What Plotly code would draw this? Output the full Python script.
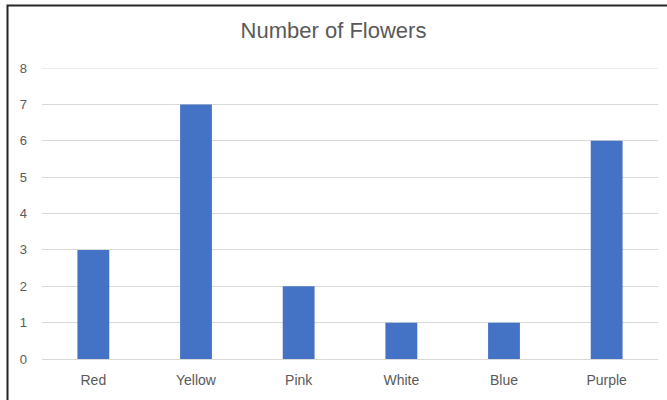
import plotly.graph_objects as go

categories = ["Red", "Yellow", "Pink", "White", "Blue", "Purple"]
counts = [3, 7, 2, 1, 1, 6]
y_ticks = [0, 1, 2, 3, 4, 5, 6, 7, 8]

L, R, T, B = 42, 9, 68, 41
W, H = 667, 400
pw, ph = W - L - R, H - T - B

fig = go.Figure(go.Bar(x=categories, y=counts, marker=dict(color="#4472C4", line=dict(width=0))))

fig.update_layout(
    width=W, height=H,
    margin=dict(l=L, r=R, t=T, b=B),
    paper_bgcolor="white", plot_bgcolor="white",
    bargap=0.69,
    showlegend=False,
    font=dict(family="Liberation Sans, Arial, sans-serif", color="#595959", size=13),
    title=dict(text="Number of Flowers", x=0.5, xanchor="center", y=1 - 30 / H, yanchor="middle",
               font=dict(size=22, color="#595959")),
    xaxis=dict(showgrid=False, showline=True, linecolor="#d9d9d9", linewidth=1,
               ticks="", tickfont=dict(size=14), ticklabelstandoff=8, fixedrange=True),
    yaxis=dict(range=[y_ticks[0], y_ticks[-1]], tickvals=y_ticks, showgrid=True, gridcolor="#d9d9d9",
               gridwidth=1, zeroline=False, showline=False, ticks="", ticklabelstandoff=14,
               tickfont=dict(size=13)),
    shapes=[
        dict(type="line", xref="paper", yref="y", x0=0, x1=1, y0=y_ticks[-1], y1=y_ticks[-1],
             line=dict(color="#d9d9d9", width=1), layer="below"),
        dict(type="rect", xref="paper", yref="paper",
             x0=(7.5 - L) / pw, x1=(W + 20 - L) / pw,
             y0=-(B + 20) / ph, y1=1 + (T - 5.5) / ph,
             line=dict(color="#262626", width=2), fillcolor="rgba(0,0,0,0)", layer="above"),
    ],
)

fig.write_html("out.html")
